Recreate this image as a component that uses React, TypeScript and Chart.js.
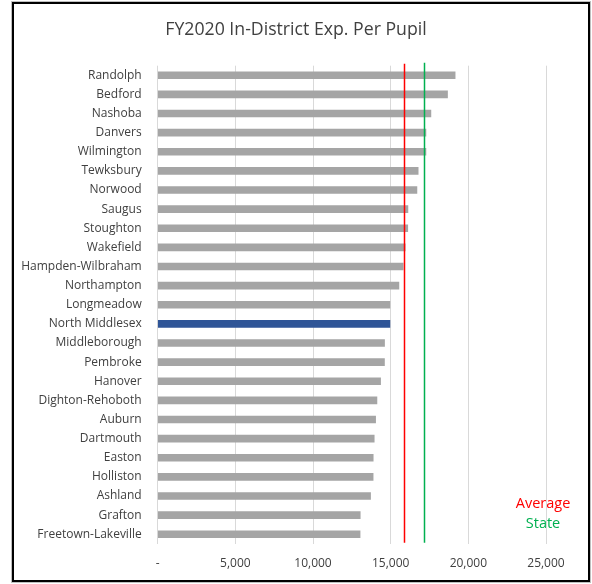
import React, { useEffect, useRef } from "react";
import { Chart, registerables } from "chart.js";

Chart.register(...registerables);

const chartTitle = "FY2020 In-District Exp. Per Pupil";
const categories = [
  "Randolph", "Bedford", "Nashoba", "Danvers", "Wilmington", "Tewksbury", "Norwood",
  "Saugus", "Stoughton", "Wakefield", "Hampden-Wilbraham", "Northampton", "Longmeadow",
  "North Middlesex", "Middleborough", "Pembroke", "Hanover", "Dighton-Rehoboth", "Auburn",
  "Dartmouth", "Easton", "Holliston", "Ashland", "Grafton", "Freetown-Lakeville",
];
const expPerPupil = [
  19150, 18660, 17590, 17270, 17270, 16770, 16690,
  16110, 16100, 15935, 15805, 15530, 14950,
  14950, 14605, 14600, 14350, 14115, 14030,
  13940, 13875, 13870, 13705, 13040, 13030,
];
const highlighted = "North Middlesex";
const averageValue = 15830;
const stateValue = 17140;
const referenceNames = ["Average", "State"];
const xTickValues = [0, 5000, 10000, 15000, 20000, 25000];
const xTickLabels = ["-", "5,000", "10,000", "15,000", "20,000", "25,000"];

const FONT = "'Open Sans', sans-serif";
const RED = "#FF0000";
const GREEN = "#00B050";

const titlePlugin = {
  id: "centeredTitle",
  afterDraw(chart: any) {
    const { ctx } = chart;
    ctx.save();
    ctx.font = "17.7px " + FONT;
    ctx.fillStyle = "#404040";
    ctx.textAlign = "center";
    ctx.textBaseline = "middle";
    ctx.fillText(chartTitle, 296, 30);
    ctx.restore();
  },
};

const refLinesPlugin = {
  id: "refLines",
  afterDatasetsDraw(chart: any) {
    const { ctx, chartArea, scales } = chart;
    const xs = scales.x;
    const lines = [
      { v: averageValue, c: RED },
      { v: stateValue, c: GREEN },
    ];
    ctx.save();
    lines.forEach((l, i) => {
      const px = Math.round(xs.getPixelForValue(l.v)) + 0.5;
      ctx.strokeStyle = l.c;
      ctx.lineWidth = 1.5;
      ctx.beginPath();
      ctx.moveTo(px, chartArea.top - (i === 1 ? 3 : 2));
      ctx.lineTo(px, chartArea.bottom - 1);
      ctx.stroke();
    });
    ctx.font = "14.5px " + FONT;
    ctx.textAlign = "center";
    ctx.textBaseline = "middle";
    ctx.fillStyle = RED;
    ctx.fillText(referenceNames[0], 543, 504);
    ctx.fillStyle = GREEN;
    ctx.fillText(referenceNames[1], 543, 524);
    ctx.restore();
  },
};

export default function App() {
  const ref = useRef<HTMLCanvasElement>(null);

  useEffect(() => {
    if (!ref.current) return;
    const chart = new Chart(ref.current, {
      type: "bar",
      data: {
        labels: categories,
        datasets: [
          {
            data: expPerPupil,
            backgroundColor: categories.map((c) => (c === highlighted ? "#2F5597" : "#A5A5A5")),
            barThickness: 7,
          },
        ],
      },
      options: {
        indexAxis: "y",
        animation: false,
        responsive: false,
        devicePixelRatio: 1,
        layout: { padding: { left: 0, right: 46, top: 65.7, bottom: 10 } },
        plugins: {
          legend: { display: false },
          tooltip: { enabled: false },
          title: { display: false },
        },
        scales: {
          x: {
            min: 0,
            max: 25000,
            afterBuildTicks: (scale: any) => {
              scale.ticks = xTickValues.map((v) => ({ value: v }));
            },
            afterFit: (scale: any) => {
              scale.height = 30.2;
            },
            grid: { color: "#D9D9D9", drawTicks: false, lineWidth: 1 },
            border: { display: false },
            ticks: {
              color: "#404040",
              font: { family: FONT, size: 12 },
              padding: 12.5,
              maxRotation: 0,
              callback: (_v: any, i: number) => xTickLabels[i],
            },
          },
          y: {
            afterFit: (scale: any) => {
              scale.width = 157.7;
            },
            grid: { display: false, drawTicks: false },
            border: { display: false },
            ticks: {
              color: "#404040",
              font: { family: FONT, size: 12 },
              padding: 16,
              autoSkip: false,
            },
          },
        },
      },
      plugins: [refLinesPlugin, titlePlugin],
    } as any);
    return () => chart.destroy();
  }, []);

  return (
    <div style={{ position: "absolute", left: 0, top: 0, width: 592, height: 584, background: "#fff" }}>
      <canvas ref={ref} width={592} height={584} style={{ position: "absolute", left: 0, top: 0 }} />
      <div
        style={{
          position: "absolute",
          left: 12,
          top: 2,
          width: 578,
          height: 580,
          boxSizing: "border-box",
          border: "2px solid #000",
          boxShadow: "0 0 0 1px #BFBFBF",
          pointerEvents: "none",
        }}
      />
    </div>
  );
}
